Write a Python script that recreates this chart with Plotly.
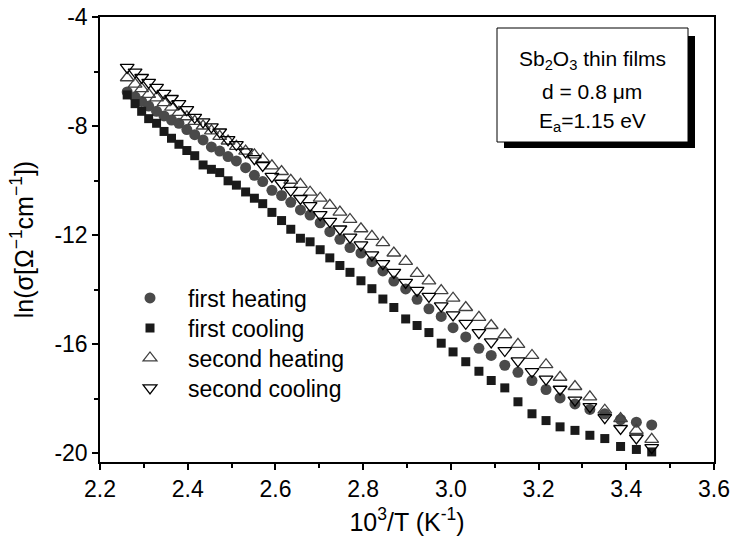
import plotly.graph_objects as go

# 10^3/T (K^-1) grid shared by all four runs
inv_T = [2.262, 2.280, 2.295, 2.311, 2.329, 2.346, 2.363, 2.380, 2.398, 2.416,
         2.435, 2.454, 2.473, 2.492, 2.511, 2.532, 2.552, 2.571, 2.592, 2.614,
         2.635, 2.657, 2.679, 2.702, 2.724, 2.747, 2.770, 2.795, 2.820, 2.845,
         2.870, 2.897, 2.923, 2.950, 2.978, 3.005, 3.034, 3.064, 3.092, 3.123,
         3.153, 3.185, 3.217, 3.249, 3.283, 3.317, 3.351, 3.387, 3.423, 3.458]

first_heating = [-6.75, -6.93, -7.10, -7.27, -7.46, -7.63, -7.78, -7.90, -8.13, -8.32,
                 -8.51, -8.77, -8.92, -9.12, -9.28, -9.53, -9.81, -10.04, -10.36, -10.55,
                 -10.80, -11.08, -11.27, -11.55, -11.88, -12.16, -12.46, -12.66, -12.98, -13.32,
                 -13.69, -13.98, -14.36, -14.71, -14.99, -15.40, -15.74, -16.16, -16.42, -16.78,
                 -17.04, -17.34, -17.67, -17.98, -18.20, -18.40, -18.56, -18.77, -18.87, -18.97]

first_cooling = [-6.86, -7.18, -7.46, -7.73, -7.90, -8.20, -8.45, -8.67, -8.90, -9.09,
                 -9.43, -9.59, -9.71, -10.01, -10.17, -10.42, -10.65, -10.85, -11.17, -11.47,
                 -11.79, -12.12, -12.25, -12.54, -12.84, -13.12, -13.37, -13.68, -13.97, -14.35,
                 -14.66, -15.08, -15.32, -15.58, -15.97, -16.29, -16.65, -17.00, -17.34, -17.61,
                 -18.12, -18.56, -18.81, -19.04, -19.17, -19.35, -19.47, -19.76, -19.87, -19.96]

second_heating = [-6.23, -6.46, -6.63, -6.84, -6.97, -7.14, -7.31, -7.50, -7.66, -7.83,
                  -8.00, -8.18, -8.38, -8.55, -8.75, -8.92, -9.06, -9.21, -9.46, -9.67,
                  -9.99, -10.14, -10.43, -10.65, -10.91, -11.16, -11.43, -11.77, -12.05, -12.28,
                  -12.66, -12.97, -13.41, -13.68, -14.04, -14.32, -14.66, -15.02, -15.32, -15.66,
                  -16.01, -16.42, -16.76, -17.22, -17.56, -17.94, -18.43, -18.74, -19.17, -19.50]

second_cooling = [-5.85, -6.02, -6.22, -6.40, -6.58, -6.80, -6.99, -7.18, -7.40, -7.68,
                  -7.85, -8.03, -8.22, -8.50, -8.68, -8.95, -9.20, -9.45, -9.85, -10.10,
                  -10.36, -10.66, -10.92, -11.25, -11.50, -11.78, -12.08, -12.36, -12.73, -13.05,
                  -13.37, -13.74, -14.03, -14.25, -14.60, -14.93, -15.24, -15.58, -15.92, -16.24,
                  -16.62, -17.01, -17.29, -17.66, -18.06, -18.30, -18.70, -19.10, -19.45, -19.80]

series_names = ["first heating", "first cooling", "second heating", "second cooling"]
x_ticks = [2.2, 2.4, 2.6, 2.8, 3.0, 3.2, 3.4, 3.6]
y_ticks = [-4, -8, -12, -16, -20]
box_lines = ["Sb<sub>2</sub>O<sub>3</sub> thin films", "d = 0.8 \u03bcm", "E<sub>a</sub>=1.15 eV"]

FONT = "Arial, Liberation Sans, sans-serif"
W, H = 732, 538
L, R, T, B = 100, 18, 17, 76
PW, PH = W - L - R, H - T - B


def px_x(px):
    return (px - L) / PW


def px_y(py):
    return (H - B - py) / PH


fig = go.Figure()
styles = [
    dict(symbol="circle", size=11, color="#4a4a4a", line=dict(width=0)),
    dict(symbol="square", size=9, color="#1a1a1a", line=dict(width=0)),
    dict(symbol="triangle-up-open", size=12, color="#404040", line=dict(width=1.3, color="#404040")),
    dict(symbol="triangle-down-open", size=12, color="#000000", line=dict(width=1.3, color="#000000")),
]
legend_ids = ["legend", "legend2", "legend3", "legend4"]
legend_rows = [298, 328, 358, 388]
for name, ys, st, lg in zip(series_names,
                            [first_heating, first_cooling, second_heating, second_cooling],
                            styles, legend_ids):
    fig.add_trace(go.Scatter(x=inv_T, y=ys, mode="markers", name=name, marker=st, legend=lg))

axis_common = dict(showline=True, linecolor="black", linewidth=1.5, mirror=True,
                   ticks="outside", tickcolor="black", tickwidth=1.5, ticklen=6,
                   showgrid=False, zeroline=False,
                   tickfont=dict(family=FONT, size=23, color="black"))

fig.update_xaxes(range=[2.2, 3.6], tickvals=x_ticks, ticktext=[f"{v:.1f}" for v in x_ticks],
                 minor=dict(ticks="outside", dtick=0.1, ticklen=4, tickwidth=1.5, tickcolor="black"),
                 title=dict(text="10<sup>3</sup>/T (K<sup>-1</sup>)", standoff=12,
                            font=dict(family=FONT, size=25, color="black")),
                 **axis_common)
fig.update_yaxes(range=[-20.33, -4], tickvals=y_ticks, ticktext=[str(v) for v in y_ticks],
                 minor=dict(ticks="outside", dtick=2, ticklen=4, tickwidth=1.5, tickcolor="black"),
                 title=dict(text="ln(\u03c3[\u03a9<sup>\u22121</sup>cm<sup>\u22121</sup>])", standoff=14,
                            font=dict(family=FONT, size=25, color="black")),
                 **axis_common)

# text box with drop shadow
fig.add_shape(type="rect", xref="paper", yref="paper",
              x0=px_x(504), x1=px_x(695), y0=px_y(148), y1=px_y(36),
              fillcolor="black", line=dict(width=0), layer="above")
fig.add_shape(type="rect", xref="paper", yref="paper",
              x0=px_x(497), x1=px_x(688), y0=px_y(142), y1=px_y(28),
              fillcolor="white", line=dict(width=1, color="black"), layer="above")
for txt, py in zip(box_lines, [60, 91, 122]):
    fig.add_annotation(text=txt, xref="paper", yref="paper", x=px_x(592), y=px_y(py),
                       showarrow=False, xanchor="center", yanchor="middle",
                       font=dict(family=FONT, size=21, color="black"))

legend_style = dict(xanchor="left", yanchor="middle", bgcolor="rgba(0,0,0,0)",
                    borderwidth=0, itemwidth=66,
                    font=dict(family=FONT, size=23, color="black"))
layout_legends = {lg: dict(x=px_x(112), y=px_y(row), **legend_style)
                  for lg, row in zip(legend_ids, legend_rows)}

fig.update_layout(
    width=W, height=H,
    margin=dict(l=L, r=R, t=T, b=B, autoexpand=False),
    paper_bgcolor="white", plot_bgcolor="white",
    showlegend=True,
    font=dict(family=FONT, color="black"),
    **layout_legends,
)

fig.write_html("out.html")
